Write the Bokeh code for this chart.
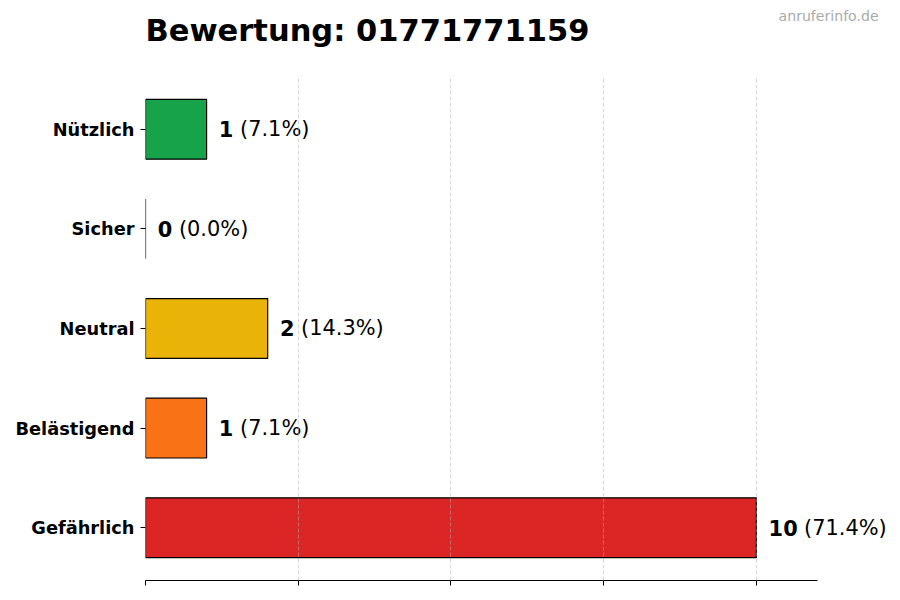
from bokeh.plotting import figure
from bokeh.models import ColumnDataSource, Range1d, FixedTicker
from bokeh.core.properties import value
from bokeh.embed import file_html
from bokeh.resources import INLINE

categories = ["Gefährlich", "Belästigend", "Neutral", "Sicher", "Nützlich"]
counts = [10, 1, 2, 0, 1]
colors = ["#dc2626", "#f97316", "#eab308", "#9ca3af", "#16a34a"]
x_ticks = [0, 2.5, 5, 7.5, 10]
title_text = "Bewertung: 01771771159"
watermark = "anruferinfo.de"

total = sum(counts)
pos = list(range(len(categories)))
num_txt = [str(c) for c in counts]
pct_txt = ["(%.1f%%)" % (c / total * 100) for c in counts]
label_x = [c + 0.2 for c in counts]
# width of the bold number plus a space, in pixels
pct_off = [len(s) * 14.2 + 7 for s in num_txt]

src = ColumnDataSource(dict(y=pos, right=counts, color=colors,
                            lx=label_x, num=num_txt, pct=pct_txt, off=pct_off))

# frame spans the whole canvas right/top so labels are not clipped;
# axis and grid are bounded to the plotting area (0..11, -0.53..4.53)
p = figure(width=900, height=600, output_backend="svg", toolbar_location=None,
           x_range=Range1d(0, 12.359), y_range=Range1d(-0.53, 5.293),
           min_border_left=145, min_border_right=0, min_border_top=0,
           min_border_bottom=20)
p.outline_line_color = None
p.background_fill_color = "white"

p.hbar(y="y", left=0, right="right", height=0.6, source=src,
       fill_color="color", line_color="black", line_width=1.2)

font = value("DejaVu Sans")
p.text(x="lx", y="y", text="num", source=src, text_font=font,
       text_font_style="bold", text_font_size="20.9px", text_baseline="middle",
       text_color="black")
p.text(x="lx", y="y", text="pct", source=src, x_offset="off",
       text_font=font, text_font_size="20.9px", text_baseline="middle",
       text_color="black")

p.text(x=[0], y=[4.99], text=[title_text], text_font=font,
       text_font_style="bold", text_font_size="30.5px",
       text_baseline="alphabetic", text_color="black")
p.text(x=[12.0], y=[5.14], text=[watermark], text_font=font,
       text_font_size="14.1px", text_align="right",
       text_baseline="alphabetic", text_color="#aaaaaa")

p.xgrid.ticker = FixedTicker(ticks=x_ticks)
p.xgrid.cross_bounds = (-0.53, 4.53)
p.xgrid.grid_line_color = "#b0b0b0"
p.xgrid.grid_line_alpha = 0.5
p.xgrid.grid_line_dash = "4 2"
p.xgrid.level = "overlay"
p.ygrid.grid_line_color = None

# bottom axis: line and ticks only, no labels
p.xaxis.ticker = FixedTicker(ticks=x_ticks)
p.xaxis.bounds = (0, 11)
p.xaxis.major_label_overrides = {t: "" for t in x_ticks}
p.xaxis.major_label_standoff = 0
p.xaxis.axis_line_color = "black"
p.xaxis.major_tick_line_color = "black"
p.xaxis.major_tick_out = 5
p.xaxis.major_tick_in = 0
p.xaxis.minor_tick_line_color = None

p.yaxis.ticker = FixedTicker(ticks=pos)
p.yaxis.major_label_overrides = {i: c for i, c in enumerate(categories)}
p.yaxis.axis_line_color = None
p.yaxis.major_tick_line_color = "black"
p.yaxis.major_tick_out = 5
p.yaxis.major_tick_in = 0
p.yaxis.minor_tick_line_color = None
p.yaxis.major_label_text_font = "DejaVu Sans"
p.yaxis.major_label_text_font_style = "bold"
p.yaxis.major_label_text_font_size = "17.8px"
p.yaxis.major_label_text_color = "black"
p.yaxis.major_label_standoff = 6

open("out.html", "w").write(file_html(p, INLINE))
